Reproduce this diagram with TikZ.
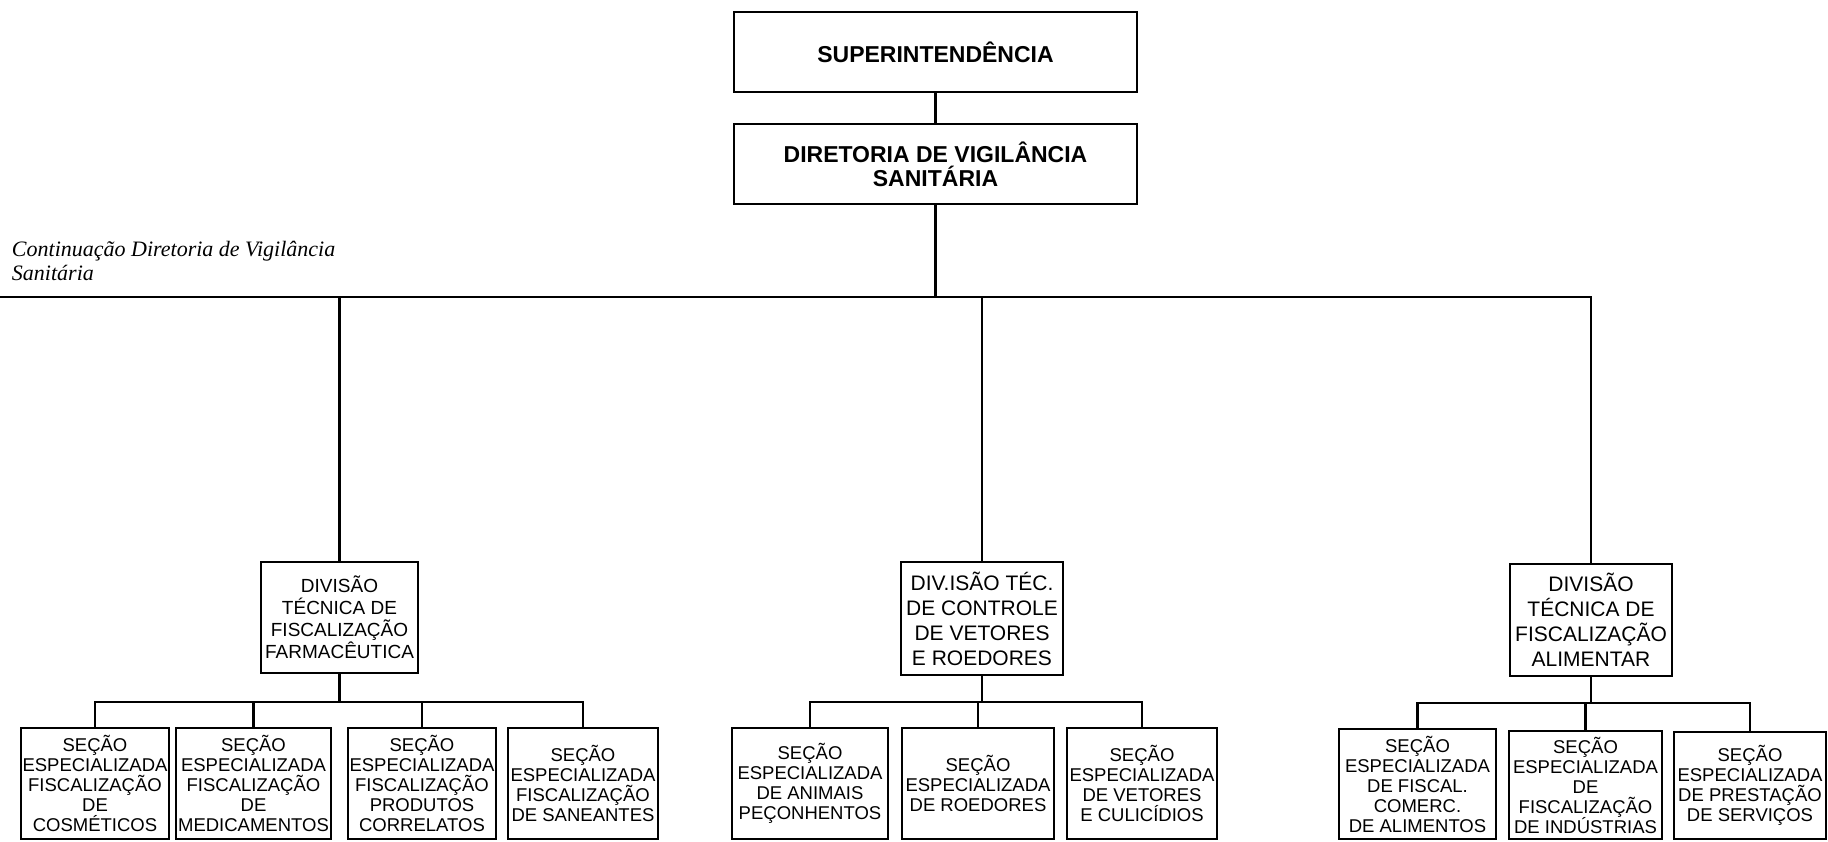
\documentclass[tikz,border=0pt]{standalone}
\usepackage{fontspec}
\setmainfont{Liberation Sans}
\newfontfamily\tms{Liberation Serif}
\begin{document}
\begin{tikzpicture}[x=1pt,y=-1pt,
  every node/.style={inner sep=0pt, outer sep=0pt},
  box/.style={draw, line width=2.8pt, align=center, minimum height=111pt},
  topbox/.style={draw, line width=2.8pt, align=center, minimum width=403pt, minimum height=80pt, font=\fontsize{23}{24}\selectfont\bfseries},
  secbox/.style={box, font=\fontsize{18.5}{20}\selectfont},
  divbox/.style={box, font=\fontsize{21}{25}\selectfont},
  link/.style={line width=2.6pt}]
\useasboundingbox (0,0) rectangle (1828,841);

% top
\node[topbox] (sup) at (935.5,52) {SUPERINTENDÊNCIA};
\node[topbox] (dir) at (935.5,164) {DIRETORIA DE VIGILÂNCIA\\SANITÁRIA};

\node[anchor=base west, font=\fontsize{22}{24}\selectfont\tms\itshape] (cont1) at (12,256) {Continuação Diretoria de Vigilância};
\node[anchor=base west, font=\fontsize{22}{24}\selectfont\tms\itshape] (cont2) at (12,280) {Sanitária};

% divisions
\node[box, minimum width=157pt, font=\fontsize{19}{22}\selectfont] (divA) at (339.5,617.5) {DIVISÃO\\TÉCNICA DE\\FISCALIZAÇÃO\\FARMACÊUTICA};
\node[divbox, minimum width=162pt, minimum height=113pt] (divB) at (982,618.5) {DIV.ISÃO TÉC.\\DE CONTROLE\\DE VETORES\\E ROEDORES};
\node[divbox, minimum width=162pt, minimum height=112pt] (divC) at (1591,620) {DIVISÃO\\TÉCNICA DE\\FISCALIZAÇÃO\\ALIMENTAR};

% sections A
\node[secbox, minimum width=148pt] (A1) at (95,783.5) {SEÇÃO\\ESPECIALIZADA\\FISCALIZAÇÃO\\DE\\COSMÉTICOS};
\node[secbox, minimum width=155pt] (A2) at (253.5,783.5) {SEÇÃO\\ESPECIALIZADA\\FISCALIZAÇÃO\\DE\\MEDICAMENTOS};
\node[secbox, minimum width=148pt] (A3) at (422,783.5) {SEÇÃO\\ESPECIALIZADA\\FISCALIZAÇÃO\\PRODUTOS\\CORRELATOS};
\node[secbox, minimum width=150pt] (A4) at (583,783.5) {SEÇÃO\\ESPECIALIZADA\\FISCALIZAÇÃO\\DE SANEANTES};

% sections B
\node[secbox, minimum width=156pt] (B1) at (810,783.5) {SEÇÃO\\ESPECIALIZADA\\DE ANIMAIS\\PEÇONHENTOS};
\node[secbox, minimum width=152pt] (B2) at (978,783.5) {SEÇÃO\\ESPECIALIZADA\\DE ROEDORES};
\node[secbox, minimum width=150pt] (B3) at (1142,783.5) {SEÇÃO\\ESPECIALIZADA\\DE VETORES\\E CULICÍDIOS};

% sections C
\node[secbox, minimum width=157pt, minimum height=110pt] (C1) at (1417.5,784) {SEÇÃO\\ESPECIALIZADA\\DE FISCAL.\\COMERC.\\DE ALIMENTOS};
\node[secbox, minimum width=153pt, minimum height=108pt] (C2) at (1585.5,785) {SEÇÃO\\ESPECIALIZADA\\DE\\FISCALIZAÇÃO\\DE INDÚSTRIAS};
\node[secbox, minimum width=152pt, minimum height=107pt] (C3) at (1750,785.5) {SEÇÃO\\ESPECIALIZADA\\DE PRESTAÇÃO\\DE SERVIÇOS};

% coordinates
\coordinate (mainL) at (0,297);
\coordinate (busA) at (0,702);
\coordinate (busB) at (0,702);
\coordinate (busC) at (0,703);

% connectors
\draw[link] (sup) -- (dir);
\draw[link] (dir) -- (dir.south |- mainL);
\draw[link] (mainL) -- (divC.north |- mainL) -- (divC.north);
\draw[link] (divA.north |- mainL) -- (divA.north);
\draw[link] (divB.north |- mainL) -- (divB.north);

\draw[link] (divA.south) -- (divA.south |- busA);
\draw[link] (A1.north) -- (A1.north |- busA) -- (A4.north |- busA) -- (A4.north);
\draw[link] (A2.north) -- (A2.north |- busA);
\draw[link] (A3.north) -- (A3.north |- busA);

\draw[link] (divB.south) -- (divB.south |- busB);
\draw[link] (B1.north) -- (B1.north |- busB) -- (B3.north |- busB) -- (B3.north);
\draw[link] (B2.north) -- (B2.north |- busB);

\draw[link] (divC.south) -- (divC.south |- busC);
\draw[link] (C1.north) -- (C1.north |- busC) -- (C3.north |- busC) -- (C3.north);
\draw[link] (C2.north) -- (C2.north |- busC);
\end{tikzpicture}
\end{document}
